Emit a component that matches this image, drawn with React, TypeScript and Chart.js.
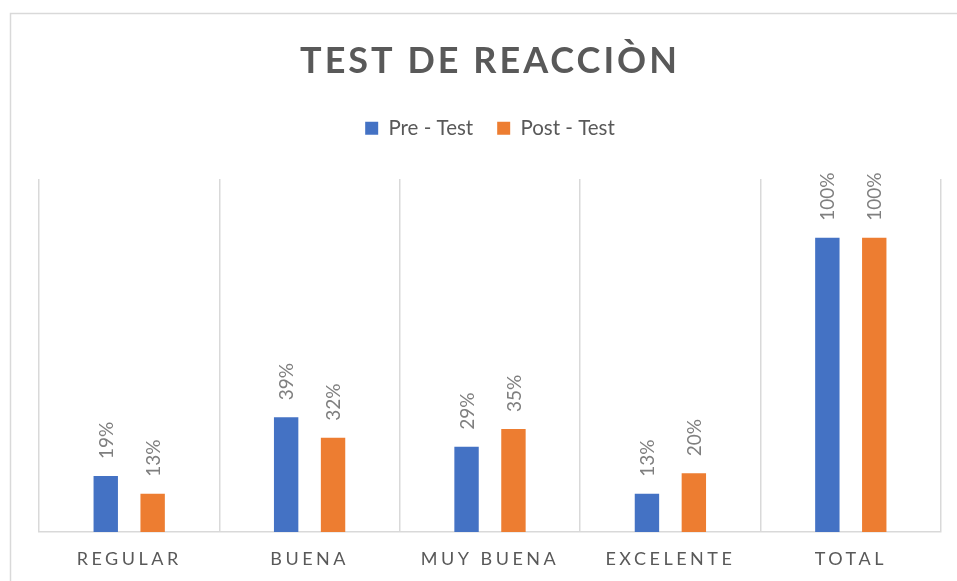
import React, { useEffect, useRef } from "react";
import { Chart, registerables } from "chart.js";

Chart.register(...registerables);

const categories = ["REGULAR", "BUENA", "MUY BUENA", "EXCELENTE", "TOTAL"];
const preTest = [19, 39, 29, 13, 100];
const postTest = [13, 32, 35, 20, 100];
const seriesNames = ["Pre - Test", "Post - Test"];
const titleText = "TEST DE REACCIÒN";

const FONT = "Lato, 'Open Sans', 'DejaVu Sans', sans-serif";
const TEXT = "#595959";
const GRID = "#d9d9d9";
const BLUE = "#4472C4";
const ORANGE = "#ED7D31";

const spacingPlugin = {
  id: "letterSpacingWrap",
  beforeLayout(chart: any) {
    const lg = chart.legend;
    if (lg && !lg.__wrapped) {
      const origFit = lg.fit.bind(lg);
      lg.fit = function () {
        origFit();
        this.height += 30.5;
      };
      lg.__wrapped = true;
    }
  },
  beforeDraw(chart: any) {
    const tb = chart.titleBlock;
    if (tb && !tb.__wrapped) {
      const orig = tb.draw.bind(tb);
      tb.draw = function (...args: any[]) {
        const ctx = chart.ctx;
        ctx.save();
        (ctx as any).letterSpacing = "3px";
        orig(...args);
        ctx.restore();
      };
      tb.__wrapped = true;
    }
    const xs = chart.scales.x;
    if (xs && !xs.__wrapped) {
      const origL = xs.drawLabels.bind(xs);
      xs.drawLabels = function (...args: any[]) {
        const ctx = chart.ctx;
        ctx.save();
        (ctx as any).letterSpacing = "3.5px";
        origL(...args);
        ctx.restore();
      };
      xs.__wrapped = true;
    }
  },
};

const framePlugin = {
  id: "frame",
  beforeDraw(chart: any) {
    const ctx = chart.ctx;
    ctx.save();
    ctx.fillStyle = "#ffffff";
    ctx.fillRect(0, 0, chart.width, chart.height);
    ctx.strokeStyle = GRID;
    ctx.lineWidth = 1.5;
    ctx.strokeRect(10.5, 13.5, 960, 620);
    ctx.restore();
  },
};

const dataLabelPlugin = {
  id: "barLabels",
  afterDatasetsDraw(chart: any) {
    const ctx = chart.ctx;
    ctx.save();
    ctx.font = `19px ${FONT}`;
    ctx.fillStyle = "#7f7f7f";
    ctx.textAlign = "left";
    ctx.textBaseline = "middle";
    chart.data.datasets.forEach((ds: any, di: number) => {
      const meta = chart.getDatasetMeta(di);
      meta.data.forEach((bar: any, i: number) => {
        ctx.save();
        ctx.translate(bar.x + 1, bar.y - 17);
        ctx.rotate(-Math.PI / 2);
        ctx.fillText(`${ds.data[i]}%`, 0, 0);
        ctx.restore();
      });
    });
    ctx.restore();
  },
};

export default function App() {
  const ref = useRef<HTMLCanvasElement | null>(null);
  useEffect(() => {
    if (!ref.current) return;
    const chart = new Chart(ref.current, {
      type: "bar",
      data: {
        labels: categories,
        datasets: [
          {
            label: seriesNames[0],
            data: preTest,
            backgroundColor: BLUE,
            borderWidth: 0,
            categoryPercentage: 0.52,
            barPercentage: 0.52,
          },
          {
            label: seriesNames[1],
            data: postTest,
            backgroundColor: ORANGE,
            borderWidth: 0,
            categoryPercentage: 0.52,
            barPercentage: 0.52,
          },
        ],
      },
      options: {
        responsive: false,
        animation: false,
        devicePixelRatio: 1,
        layout: { padding: { left: 39, right: 16, top: 0, bottom: 0 } },
        plugins: {
          title: {
            display: true,
            text: titleText,
            color: TEXT,
            font: { family: FONT, size: 36, weight: "bold", lineHeight: 1.2 },
            padding: { top: 40, bottom: 10.8 },
          },
          legend: {
            display: true,
            position: "top",
            labels: {
              boxWidth: 13,
              boxHeight: 13,
              padding: 24,
              color: TEXT,
              font: { family: FONT, size: 20.5 },
            },
          },
          tooltip: { enabled: false },
        },
        scales: {
          x: {
            grid: { display: true, color: GRID, lineWidth: 1.5, drawTicks: false, offset: true },
            border: { display: true, color: GRID, width: 1.5 },
            ticks: { color: TEXT, font: { family: FONT, size: 18 }, padding: 16.5, maxRotation: 0 },
            afterFit: (scale: any) => {
              scale.height = 49;
            },
          },
          y: {
            display: false,
            min: 0,
            max: 120,
          },
        },
      },
      plugins: [framePlugin, spacingPlugin, dataLabelPlugin],
    });
    return () => chart.destroy();
  }, []);
  return (
    <div style={{ position: "absolute", left: 0, top: 0, width: 957, height: 581 }}>
      <canvas ref={ref} width={957} height={581} style={{ display: "block" }} />
    </div>
  );
}
